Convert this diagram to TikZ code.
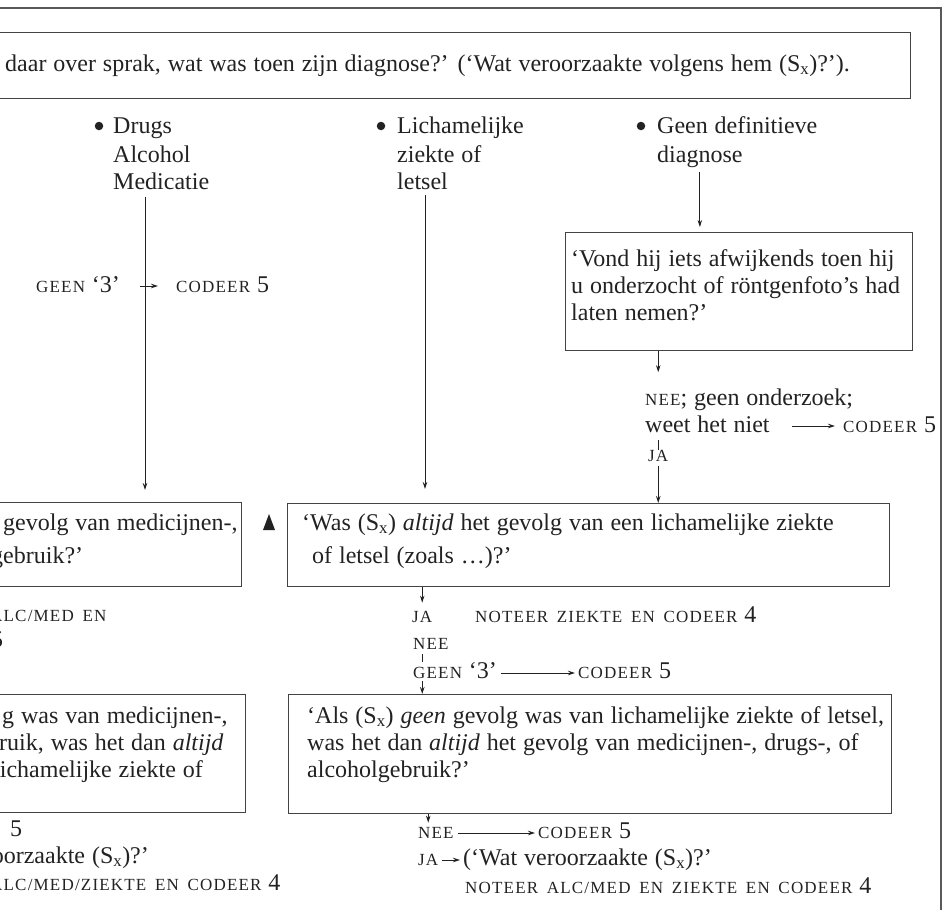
\documentclass[tikz,border=0pt]{standalone}
\usepackage{fontspec}
\setmainfont[WordSpace=1.15]{Liberation Serif}
\newfontfamily\scfam[LetterSpace=7,WordSpace=1.6]{Liberation Serif}
\usetikzlibrary{arrows.meta}
\definecolor{ink}{HTML}{222222}
\newcommand\ksc[1]{{\scfam\fontsize{17}{20}\selectfont #1}}

\begin{document}
\begin{tikzpicture}[x=1pt,y=-1pt,
  font=\fontsize{24}{27}\selectfont,
  txt/.style={anchor=base west, inner sep=0pt, text=ink},
  dot/.style={circle, fill=ink, inner sep=0pt, minimum size=8.5pt},
  qbox/.style={draw=ink!85, line width=1.1pt, anchor=north west, inner sep=0pt},
  arr/.style={draw=ink, line width=0.9pt, -{Stealth[length=7pt,width=4.5pt]}},
  tick/.style={draw=ink, line width=0.9pt},
  frame/.style={draw=ink!75, line width=1.3pt}]
	\useasboundingbox (0,0) rectangle (945,910);
	\clip (0,0) rectangle (945,910);
	\draw[frame] (0,8) -- (941,8) -- (941,910);

	% question boxes
	\node[qbox, minimum width=930pt, minimum height=66pt] (topq) at (-20,32) {};
	\node[qbox, minimum width=347pt, minimum height=118pt] (vond) at (565,232) {};
	\node[qbox, minimum width=261pt, minimum height=84pt] (lefta) at (-20,502) {};
	\node[qbox, minimum width=602pt, minimum height=83pt] (was) at (287,503) {};
	\node[qbox, minimum width=265pt, minimum height=118pt] (leftb) at (-20,694) {};
	\node[qbox, minimum width=603pt, minimum height=119pt] (als) at (288,694) {};

	\node[txt] (topt) at (5,71) {daar over sprak, wat was toen zijn diagnose?' (`Wat veroorzaakte volgens hem (S\textsubscript{x})?').};

	% answer categories
	\node[dot] (b1) at (99,126) {};
	\node[txt] (drugs) at (113,133) {Drugs};
	\node[txt] (alc) at (113,162) {Alcohol};
	\node[txt] (medic) at (113,189) {Medicatie};
	\node[dot] (b2) at (381,126) {};
	\node[txt] (lich) at (397,133) {Lichamelijke};
	\node[txt] (ziek) at (397,162) {ziekte of};
	\node[txt] (lets) at (397,189) {letsel};
	\node[dot] (b3) at (641,126) {};
	\node[txt] (geendef) at (657,133) {Geen definitieve};
	\node[txt] (diag) at (657,162) {diagnose};

	% left column
	\node[txt] (geen1) at (36,292) {\ksc{GEEN} `3'};
	\node[txt] (cod1) at (176,292) {\ksc{CODEER} 5};
	\node[txt] (la1) at (3,530) {gevolg van medicijnen-,};
	\node[txt] (la2) at (-9,563) {gebruik?'};
	\fill[ink] (263,530) -- (275,530) -- (269,514) -- cycle;
	\node[txt] (la3) at (-10,621) {\ksc{ALC/MED EN}};
	\node[txt] (la4) at (-9,647) {5};
	\node[txt] (lb1) at (2,723) {g was van medicijnen-,};
	\node[txt] (lb2) at (-13,750) {bruik, was het dan \textit{altijd}};
	\node[txt] (lb3) at (-7,777) {lichamelijke ziekte of};
	\node[txt] (lc1) at (10,836) {5};
	\node[txt] (lc2) at (-39,863) {veroorzaakte (S\textsubscript{x})?'};
	\node[txt] (lc3) at (-10,890) {\ksc{ALC/MED/ZIEKTE EN CODEER} 4};

	% right column
	\node[txt] (v1) at (571,266) {`Vond hij iets afwijkends toen hij};
	\node[txt] (v2) at (571,293) {u onderzocht of röntgenfoto's had};
	\node[txt] (v3) at (571,320) {laten nemen?'};
	\node[txt] (nee1) at (645,405) {\ksc{NEE}; geen onderzoek;};
	\node[txt] (weet) at (645,432) {weet het niet};
	\node[txt] (cod2) at (843,432) {\ksc{CODEER} 5};
	\node[txt] (ja1) at (648,461) {\ksc{JA}};

	% middle column
	\node[txt] (w1) at (302,530) {`Was (S\textsubscript{x}) \textit{altijd} het gevolg van een lichamelijke ziekte};
	\node[txt] (w2) at (312,563) {of letsel (zoals \dots)?'};
	\node[txt] (ja2) at (412,622) {\ksc{JA}};
	\node[txt] (not1) at (475,622) {\ksc{NOTEER ZIEKTE EN CODEER} 4};
	\node[txt] (nee2) at (413,649) {\ksc{NEE}};
	\node[txt] (geen2) at (413,678) {\ksc{GEEN} `3'};
	\node[txt] (cod3) at (578,678) {\ksc{CODEER} 5};
	\node[txt] (a1) at (307,723) {`Als (S\textsubscript{x}) \textit{geen} gevolg was van lichamelijke ziekte of letsel,};
	\node[txt] (a2) at (307,750) {was het dan \textit{altijd} het gevolg van medicijnen-, drugs-, of};
	\node[txt] (a3) at (307,777) {alcoholgebruik?'};
	\node[txt] (nee3) at (418,838) {\ksc{NEE}};
	\node[txt] (cod4) at (538,838) {\ksc{CODEER} 5};
	\node[txt] (ja3) at (418,865) {\ksc{JA}};
	\node[txt] (wat) at (463,865) {(`Wat veroorzaakte (S\textsubscript{x})?'};
	\node[txt] (not2) at (465,893) {\ksc{NOTEER ALC/MED EN ZIEKTE EN CODEER} 4};

	% connectors
	\coordinate (d0) at (145,197);
	\draw[arr, shorten >=12pt] (d0) -- (d0 |- lefta.north);
	\coordinate (g1) at ([yshift=6pt]geen1.base east);
	\draw[arr, shorten <=20pt, shorten >=18pt] (g1) -- (g1 -| cod1.west);
	\coordinate (l0) at (425,195);
	\draw[arr, shorten >=14pt] (l0) -- (l0 |- was.north);
	\draw[arr, shorten <=5pt, shorten >=5pt] (diag.south) -- (diag.south |- vond.north);
	\draw[arr, shorten >=16pt] (vond.south -| ja1) -- (nee1.north -| ja1);
	\coordinate (w0) at ([yshift=6pt]weet.base east);
	\draw[arr, shorten <=22pt, shorten >=8pt] (w0) -- (w0 -| cod2.west);
	\draw[tick, shorten <=8pt] (weet.south -| ja1) -- (ja1.north);
	\draw[arr, shorten <=5pt] (ja1.south) -- (ja1 |- was.north);
	\draw[arr, shorten >=8pt] (was.south -| ja2) -- (ja2.north);
	\draw[tick, shorten <=5pt] (nee2.south -| ja2) -- (geen2.north -| ja2);
	\draw[arr, shorten <=3pt] (geen2.south -| ja2) -- (ja2 |- als.north);
	\coordinate (g2) at ([yshift=5pt]geen2.base east);
	\draw[arr, shorten <=4pt, shorten >=3pt] (g2) -- (g2 -| cod3.west);
	\draw[arr, shorten >=4pt] (als.south -| ja3) -- (nee3.north -| ja3);
	\coordinate (n3) at ([yshift=5pt]nee3.base east);
	\draw[arr, shorten <=4pt, shorten >=3pt] (n3) -- (n3 -| cod4.west);
	\coordinate (j3) at ([yshift=5pt]ja3.base east);
	\draw[arr, shorten <=4pt, shorten >=3pt] (j3) -- (j3 -| wat.west);
\end{tikzpicture}
\end{document}
